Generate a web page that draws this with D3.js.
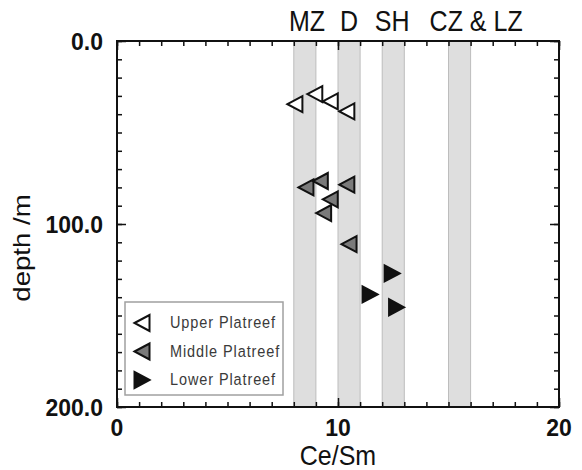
<!DOCTYPE html>
<html>
<head>
<meta charset="utf-8">
<script src="https://cdn.jsdelivr.net/npm/d3@7"></script>
<style>
  body { margin: 0; background: #fff; }
  svg { display: block; font-family: "Liberation Sans", Arial, sans-serif; }
</style>
</head>
<body>
<div id="chart"></div>
<script>
// Ce/Sm vs depth, three Platreef units
const upperX = [8.05, 8.95, 9.65, 10.4];
const upperDepth = [34.5, 29, 33, 38.5];
const middleX = [8.55, 9.2, 10.4, 9.65, 9.35, 10.5];
const middleDepth = [80, 76.5, 78.5, 86.5, 94, 111];
const lowerX = [12.45, 11.45, 12.65];
const lowerDepth = [127, 138.5, 145.5];

// reference zones (Ce/Sm ranges) and their labels
const zoneRanges = [[8, 9], [10, 11], [12, 13], [15, 16]];
const zoneLabels = ["MZ", "D", "SH", "CZ & LZ"];
const zoneLabelX = [8.6, 10.5, 12.45, 16.25];

const xTickLabels = [0, 10, 20];
const yTickLabels = [0, 100, 200];
const legendLabels = ["Upper Platreef", "Middle Platreef", "Lower Platreef"];

const W = 582, H = 470;
const pLeft = 117, pRight = 559, pTop = 41, pBottom = 407;

const svg = d3.select("#chart").append("svg")
  .attr("width", W)
  .attr("height", H);

const x = d3.scaleLinear().domain([0, 20]).range([pLeft, pRight]);
const y = d3.scaleLinear().domain([0, 200]).range([pTop, pBottom]);

// put a text at (px, py); sx/sy stretch it (the original text is a bit tall)
function tallText(px, py, str, size, weight, anchor, rot, sx, sy) {
  let tr = `translate(${px},${py})`;
  if (rot) tr += ` rotate(${rot})`;
  tr += ` scale(${sx || 1},${sy || 1})`;
  return svg.append("text")
    .attr("transform", tr)
    .attr("text-anchor", anchor)
    .attr("font-size", size)
    .attr("font-weight", weight)
    .attr("fill", "#111")
    .text(str);
}

// gray zone bands
svg.selectAll("rect.zone")
  .data(zoneRanges)
  .enter()
  .append("rect")
  .attr("class", "zone")
  .attr("x", d => x(d[0]))
  .attr("y", pTop)
  .attr("width", d => x(d[1]) - x(d[0]))
  .attr("height", pBottom - pTop)
  .attr("fill", "#dedede")
  .attr("stroke", "#bdbdbd")
  .attr("stroke-width", 1);

// ticks on all four sides, pointing inward
function ticks(axis, tx, ty) {
  const g = svg.append("g")
    .attr("transform", `translate(${tx},${ty})`)
    .call(axis);
  g.select(".domain").remove();
  g.selectAll("text").remove();
  g.selectAll("line").attr("stroke", "#111").attr("stroke-width", 1.5);
}
const xMinor = d3.range(0, 21, 1);
const yMinor = d3.range(0, 201, 10);
ticks(d3.axisTop(x).tickValues(xMinor).tickSize(-5), 0, pTop);
ticks(d3.axisBottom(x).tickValues(xMinor).tickSize(-5), 0, pBottom);
ticks(d3.axisTop(x).tickValues(xTickLabels).tickSize(-9), 0, pTop);
ticks(d3.axisBottom(x).tickValues(xTickLabels).tickSize(-9), 0, pBottom);
ticks(d3.axisLeft(y).tickValues(yMinor).tickSize(-5), pLeft, 0);
ticks(d3.axisRight(y).tickValues(yMinor).tickSize(-5), pRight, 0);
ticks(d3.axisLeft(y).tickValues(yTickLabels).tickSize(-9), pLeft, 0);
ticks(d3.axisRight(y).tickValues(yTickLabels).tickSize(-9), pRight, 0);

// frame
svg.append("rect")
  .attr("x", pLeft)
  .attr("y", pTop)
  .attr("width", pRight - pLeft)
  .attr("height", pBottom - pTop)
  .attr("fill", "none")
  .attr("stroke", "#111")
  .attr("stroke-width", 2);

// tick labels
xTickLabels.forEach(v => tallText(x(v), 436, v, 23, "bold", "middle", 0, 1, 1.03));
yTickLabels.forEach(v => tallText(103, y(v) + 8.5, v.toFixed(1), 23, "bold", "end", 0, 1, 1.03));

// axis titles
tallText((pLeft + pRight) / 2, 465, "Ce/Sm", 25, "normal", "middle", 0, 1, 1.1);
tallText(30, 248, "depth /m", 23, "normal", "middle", -90, 1.2, 1);

// zone labels above the frame
zoneLabels.forEach((s, i) => tallText(x(zoneLabelX[i]), 31, s, 25, "normal", "middle", 0, 1, 1.15));

// triangle markers, w x h box centred on the point
const tw = 15, th = 16;
function triLeft(cx, cy) {
  return `M${cx - tw / 2},${cy} L${cx + tw / 2},${cy - th / 2} L${cx + tw / 2},${cy + th / 2} Z`;
}
function triRight(cx, cy) {
  return `M${cx + tw / 2},${cy} L${cx - tw / 2},${cy - th / 2} L${cx - tw / 2},${cy + th / 2} Z`;
}

const series = [
  { xs: upperX, ds: upperDepth, shape: triLeft, fill: "#fff" },
  { xs: middleX, ds: middleDepth, shape: triLeft, fill: "#7a7a7a" },
  { xs: lowerX, ds: lowerDepth, shape: triRight, fill: "#111" }
];

series.forEach(s => {
  svg.append("g")
    .selectAll("path")
    .data(s.xs.map((v, i) => [v, s.ds[i]]))
    .enter()
    .append("path")
    .attr("d", d => s.shape(x(d[0]), y(d[1])))
    .attr("fill", s.fill)
    .attr("stroke", "#111")
    .attr("stroke-width", 2)
    .attr("stroke-linejoin", "miter");
});

// legend
const lg = svg.append("g");
lg.append("rect")
  .attr("x", 125)
  .attr("y", 302)
  .attr("width", 158)
  .attr("height", 93)
  .attr("fill", "#fff")
  .attr("stroke", "#a0a0a0")
  .attr("stroke-width", 1.5);

legendLabels.forEach((s, i) => {
  const ly = 323 + i * 28.5;
  lg.append("path")
    .attr("d", series[i].shape(142, ly))
    .attr("fill", series[i].fill)
    .attr("stroke", "#111")
    .attr("stroke-width", 2);
  lg.append("text")
    .attr("transform", `translate(170,${ly + 5}) scale(1,1.2)`)
    .attr("font-size", 14.5)
    .attr("letter-spacing", 0.9)
    .attr("fill", "#3a3a3a")
    .text(s);
});
</script>
</body>
</html>
